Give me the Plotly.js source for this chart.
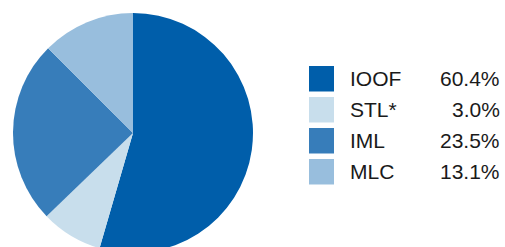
<!DOCTYPE html>
<html>
<head>
<meta charset="utf-8">
<script src="https://cdn.plot.ly/plotly-3.0.1.min.js"></script>
<style>
html,body{margin:0;padding:0;overflow:hidden;background:#fff;}
#chart{width:505px;height:260px;}
</style>
</head>
<body>
<div id="chart"></div>
<script>
// Data
var labels = ["IOOF", "STL*", "IML", "MLC"];
var sliceValues = [54.5, 8.3, 24.7, 12.5];       // slice sizes as drawn
var legendPct = ["60.4%", "3.0%", "23.5%", "13.1%"]; // legend labels
var colors = ["#005eaa", "#c8deec", "#377dba", "#98bedd"];

var W = 505, H = 260;
function py(p){ return (H - p) / H; }
function px(p){ return p / W; }

var cx = 133, cy = 133, r = 120;

var trace = {
  type: "pie",
  labels: labels,
  values: sliceValues,
  sort: false,
  direction: "clockwise",
  rotation: 0,
  textinfo: "none",
  hoverinfo: "none",
  showlegend: false,
  marker: {colors: colors, line: {width: 0}},
  domain: {x: [px(cx - r), px(cx + r)], y: [py(cy + r), py(cy - r)]}
};

var shapes = [], annotations = [];
var rowTops = [66, 97, 128, 159];
var font = {family: "Liberation Sans, Arial, sans-serif", size: 21, color: "#1a1a1a"};
for (var i = 0; i < labels.length; i++) {
  var t = rowTops[i], c = t + 12.5;
  shapes.push({type: "rect", xref: "paper", yref: "paper",
    x0: px(309), x1: px(334), y0: py(t + 25.5), y1: py(t),
    fillcolor: colors[i], line: {width: 0}});
  annotations.push({xref: "paper", yref: "paper", x: px(349), y: py(c),
    xanchor: "left", yanchor: "middle", showarrow: false, text: labels[i],
    borderpad: 0, font: font});
  annotations.push({xref: "paper", yref: "paper", x: px(501), y: py(c),
    xanchor: "right", yanchor: "middle", showarrow: false, text: legendPct[i],
    borderpad: 0, font: font});
}

var layout = {
  width: W, height: H,
  margin: {l: 0, r: 0, t: 0, b: 0, pad: 0},
  paper_bgcolor: "#fff",
  showlegend: false,
  shapes: shapes,
  annotations: annotations
};

Plotly.newPlot("chart", [trace], layout, {displayModeBar: false, staticPlot: true});
</script>
</body>
</html>
